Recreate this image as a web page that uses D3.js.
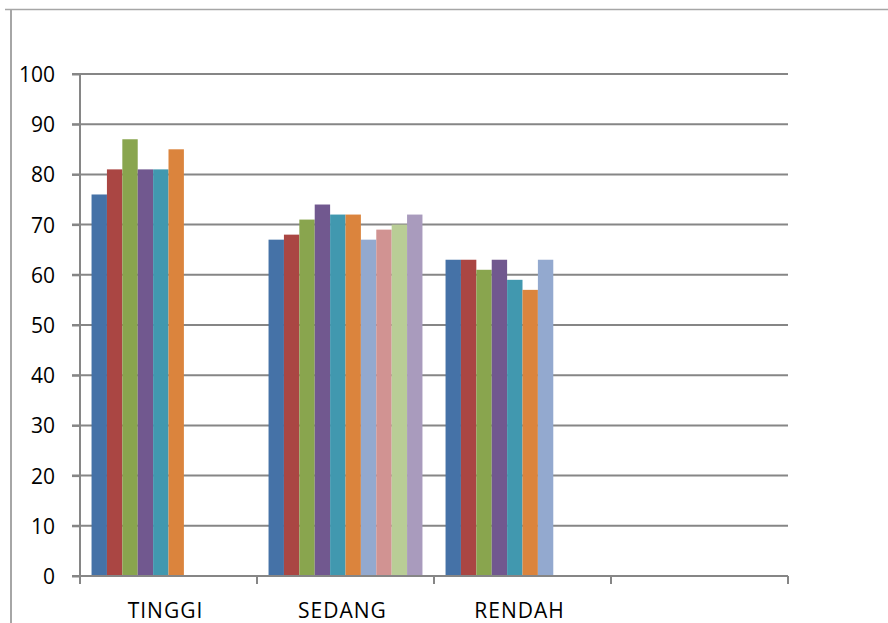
<!DOCTYPE html>
<html>
<head>
<meta charset="utf-8">
<script src="https://cdn.jsdelivr.net/npm/d3@7"></script>
<style>
  html, body { margin: 0; padding: 0; background: #fff; }
  svg { display: block; }
  text { font-family: "Open Sans", "Liberation Sans", sans-serif; fill: #000; }
</style>
</head>
<body>
<div id="chart"></div>
<script>
// Categories along the x axis (the last slot is left empty)
const categories = ["TINGGI", "SEDANG", "RENDAH", ""];

// One array per series, one value per category (null = no bar)
const seri1  = [76, 67, 63, null];
const seri2  = [81, 68, 63, null];
const seri3  = [87, 71, 61, null];
const seri4  = [81, 74, 63, null];
const seri5  = [81, 72, 59, null];
const seri6  = [85, 72, 57, null];
const seri7  = [null, 67, 63, null];
const seri8  = [null, 69, null, null];
const seri9  = [null, 70, null, null];
const seri10 = [null, 72, null, null];

const seriesValues = [seri1, seri2, seri3, seri4, seri5, seri6, seri7, seri8, seri9, seri10];
const seriesNames = ["Seri 1", "Seri 2", "Seri 3", "Seri 4", "Seri 5",
                     "Seri 6", "Seri 7", "Seri 8", "Seri 9", "Seri 10"];
const seriesColors = ["#4572A7", "#AA4643", "#89A54E", "#71588F", "#4198AF",
                      "#DB843D", "#93A9CF", "#D19392", "#B9CD96", "#A99BBD"];

// Y axis tick values
const yTicks = [0, 10, 20, 30, 40, 50, 60, 70, 80, 90, 100];

const W = 888, H = 623;
const plot = { left: 80, right: 788, top: 74, bottom: 576 };

const svg = d3.select("#chart").append("svg")
  .attr("width", W).attr("height", H);

// outer frame (top and left edges)
svg.append("line").attr("x1", 5).attr("x2", W).attr("y1", 9.5).attr("y2", 9.5)
  .attr("stroke", "#a6a6a6").attr("stroke-width", 1.5);
svg.append("line").attr("x1", 11).attr("x2", 11).attr("y1", 9).attr("y2", H)
  .attr("stroke", "#a6a6a6").attr("stroke-width", 2);

const y = d3.scaleLinear().domain([0, 100]).range([plot.bottom, plot.top]);
const x0 = d3.scaleBand().domain(categories.map((c, i) => i))
  .range([plot.left, plot.right]).paddingInner(0).paddingOuter(0);
const x1 = d3.scaleBand().domain(seriesNames)
  .range([0, x0.bandwidth()]).paddingInner(0).paddingOuter(0.75);

const gridColor = "#868686";

// horizontal gridlines
svg.append("g").selectAll("line").data(yTicks.filter(d => d > 0)).join("line")
  .attr("x1", plot.left - 8).attr("x2", plot.right)
  .attr("y1", d => y(d)).attr("y2", d => y(d))
  .attr("stroke", gridColor).attr("stroke-width", 2);

// bars
const barData = [];
seriesValues.forEach((vals, s) => {
  vals.forEach((v, c) => {
    if (v != null) barData.push({ c, s, v });
  });
});
svg.append("g").selectAll("rect").data(barData).join("rect")
  .attr("x", d => x0(d.c) + x1(seriesNames[d.s]))
  .attr("width", x1.bandwidth())
  .attr("y", d => y(d.v))
  .attr("height", d => y(0) - y(d.v))
  .attr("fill", d => seriesColors[d.s]);

// y axis
const yAxis = d3.axisLeft(y).tickValues(yTicks).tickSize(8).tickPadding(17)
  .tickFormat(d3.format("d"));
const gy = svg.append("g").attr("transform", `translate(${plot.left},0)`).call(yAxis);
gy.select(".domain").attr("stroke", gridColor).attr("stroke-width", 2)
  .attr("d", `M0,${plot.top}V${plot.bottom}`);
gy.selectAll(".tick line").attr("stroke", gridColor).attr("stroke-width", 2);
gy.selectAll(".tick text").style("font-size", "21px").attr("dy", "0.36em");

// x axis baseline with ticks at category boundaries
const bounds = categories.map((c, i) => x0(i)).concat([plot.right]);
const gx = svg.append("g");
gx.append("line").attr("x1", plot.left - 8).attr("x2", plot.right)
  .attr("y1", y(0)).attr("y2", y(0))
  .attr("stroke", gridColor).attr("stroke-width", 2);
gx.selectAll("line.tk").data(bounds).join("line").attr("class", "tk")
  .attr("x1", d => d).attr("x2", d => d)
  .attr("y1", y(0)).attr("y2", y(0) + 8)
  .attr("stroke", gridColor).attr("stroke-width", 2);

// category labels
gx.selectAll("text").data(categories).join("text")
  .attr("x", (d, i) => x0(i) + x0.bandwidth() / 2 - 3)
  .attr("y", 618)
  .attr("text-anchor", "middle")
  .style("font-size", "21px")
  .style("letter-spacing", "1px")
  .text(d => d);
</script>
</body>
</html>
